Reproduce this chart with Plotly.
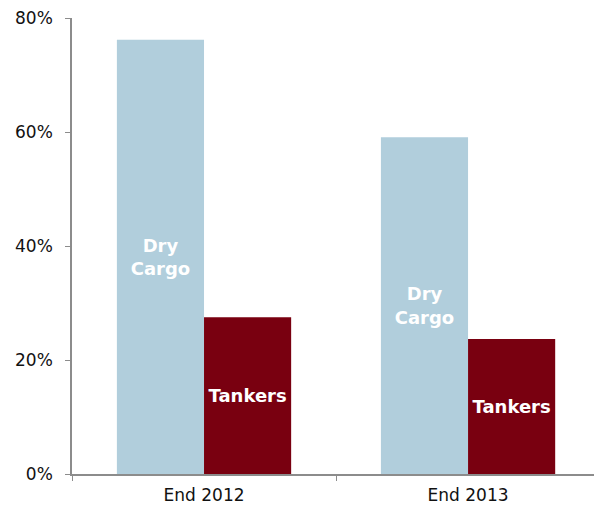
import plotly.graph_objects as go

categories = ["End 2012", "End 2013"]
dry_cargo = [76.2, 59.1]
tankers = [27.5, 23.7]
y_ticks = [0, 20, 40, 60, 80]
y_tick_labels = [f"{v}%" for v in y_ticks]

font_family = "Verdana, DejaVu Sans, sans-serif"
label_font = dict(color="white", size=18, family=font_family, weight="bold")

fig = go.Figure()
fig.add_trace(go.Bar(
    x=categories, y=dry_cargo, name="Dry Cargo",
    marker=dict(color="#B1CEDC", line=dict(width=0)),
    text=["Dry<br>Cargo"] * len(categories),
    textposition="inside", insidetextanchor="middle",
    textfont=label_font, textangle=0,
))
fig.add_trace(go.Bar(
    x=categories, y=tankers, name="Tankers",
    marker=dict(color="#790010", line=dict(width=0)),
    text=["Tankers"] * len(categories),
    textposition="inside", insidetextanchor="middle",
    textfont=label_font, textangle=0,
))

fig.update_layout(
    width=594, height=510,
    margin=dict(l=72, r=0, t=18, b=36),
    barmode="group", bargap=0.34, bargroupgap=0,
    showlegend=False,
    plot_bgcolor="white", paper_bgcolor="white",
    font=dict(family=font_family, size=17, color="#111111"),
    uniformtext=dict(minsize=8, mode="show"),
)
fig.update_xaxes(
    type="category", range=[-0.5, 1.477],
    showline=True, linecolor="#8C8C8C", linewidth=1.5,
    ticks="outside", tickson="boundaries", ticklen=5, tickcolor="#8C8C8C",
    showgrid=False, tickfont=dict(size=17), ticklabelstandoff=5,
)
fig.update_yaxes(
    range=[0, 80], tickmode="array", tickvals=y_ticks, ticktext=y_tick_labels,
    showline=True, linecolor="#8C8C8C", linewidth=1.5,
    ticks="outside", ticklen=5, tickcolor="#8C8C8C",
    showgrid=False, zeroline=False, tickfont=dict(size=17), ticklabelstandoff=9,
)

fig.write_html("out.html")
